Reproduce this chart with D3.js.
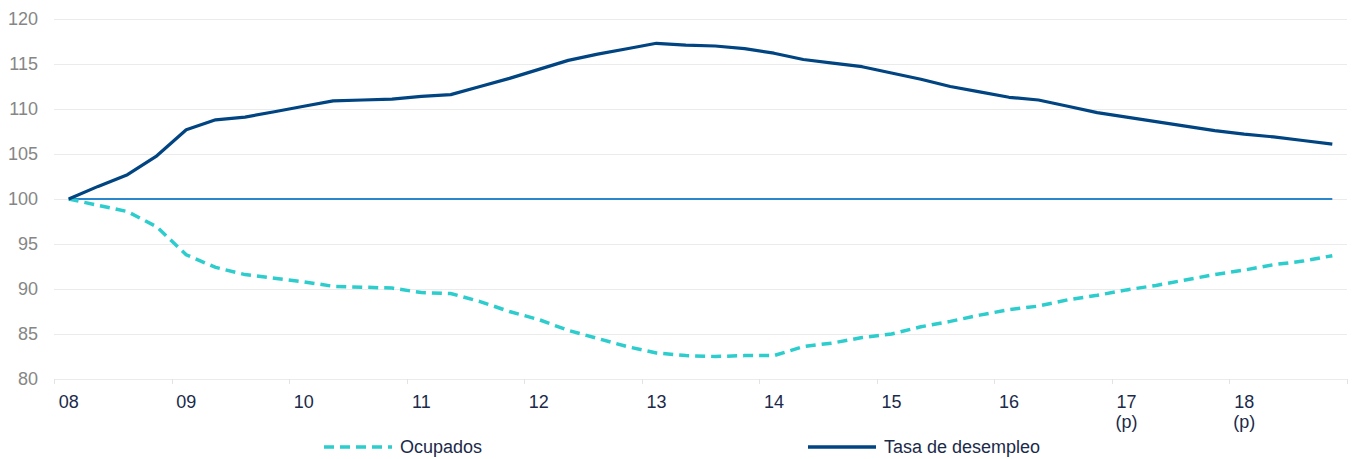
<!DOCTYPE html>
<html>
<head>
<meta charset="utf-8">
<script src="https://cdn.jsdelivr.net/npm/d3@7"></script>
<style>
  body { margin: 0; background: #fff; }
  svg text { font-family: "Liberation Sans", Arial, sans-serif; }
</style>
</head>
<body>
<svg id="chart"></svg>
<script>
const WIDTH = 1371;
const HEIGHT = 459;

// quarterly, 08Q1 .. 18Q4
const years = ["08", "09", "10", "11", "12", "13", "14", "15", "16", "17", "18"];
const projected = ["17", "18"];
const quarters = years.flatMap(y => [1, 2, 3, 4].map(q => y + "Q" + q));

const tasaDesempleo = [
  100.0, 101.4, 102.7, 104.8, 107.7, 108.8, 109.1, 109.7, 110.3, 110.9, 111.0,
  111.1, 111.4, 111.6, 112.5, 113.4, 114.4, 115.4, 116.1, 116.7, 117.3, 117.1,
  117.0, 116.7, 116.2, 115.5, 115.1, 114.7, 114.0, 113.3, 112.5, 111.9, 111.3,
  111.0, 110.3, 109.6, 109.1, 108.6, 108.1, 107.6, 107.2, 106.9, 106.5, 106.1
];
const ocupados = [
  100.0, 99.3, 98.6, 96.9, 93.8, 92.4, 91.6, 91.2, 90.8, 90.3, 90.2,
  90.1, 89.6, 89.5, 88.6, 87.5, 86.6, 85.4, 84.5, 83.6, 82.9, 82.6,
  82.5, 82.6, 82.6, 83.6, 84.0, 84.6, 85.0, 85.8, 86.4, 87.1, 87.7,
  88.1, 88.8, 89.3, 89.9, 90.4, 91.0, 91.6, 92.1, 92.7, 93.1, 93.7
];
const base = quarters.map(() => 100);
const yTicks = [80, 85, 90, 95, 100, 105, 110, 115, 120];

const margin = {left: 54, right: 24, top: 19, bottom: 80};
const FONT = 18;

function main() {
  const svg = d3.select("#chart")
    .attr("width", WIDTH)
    .attr("height", HEIGHT);

  const x = d3.scaleBand()
    .domain(quarters)
    .range([margin.left, WIDTH - margin.right]);

  const y = d3.scaleLinear()
    .domain([80, 120])
    .range([HEIGHT - margin.bottom, margin.top]);

  const cx = d => x(d) + x.bandwidth() / 2;

  // gridlines
  svg.append("g")
    .selectAll("line")
    .data(yTicks)
    .join("line")
    .attr("x1", margin.left)
    .attr("x2", WIDTH - margin.right)
    .attr("y1", d => Math.round(y(d)) + 0.5)
    .attr("y2", d => Math.round(y(d)) + 0.5)
    .attr("stroke", "#ebebeb")
    .attr("stroke-width", 1);

  // y labels
  svg.append("g")
    .selectAll("text")
    .data(yTicks)
    .join("text")
    .attr("x", 38)
    .attr("y", d => y(d))
    .attr("dy", "0.35em")
    .attr("text-anchor", "end")
    .attr("font-size", FONT)
    .attr("fill", "#868686")
    .text(d => d);

  // tick marks at year boundaries
  const bounds = years.map(yr => x(yr + "Q1")).concat([WIDTH - margin.right]);
  svg.append("g")
    .selectAll("line")
    .data(bounds)
    .join("line")
    .attr("x1", d => Math.round(d) + 0.5)
    .attr("x2", d => Math.round(d) + 0.5)
    .attr("y1", y(80))
    .attr("y2", y(80) + 5)
    .attr("stroke", "#e3e3e3");

  // x labels
  const xl = svg.append("g")
    .selectAll("text")
    .data(years)
    .join("text")
    .attr("x", d => cx(d + "Q1"))
    .attr("y", 408)
    .attr("text-anchor", "middle")
    .attr("font-size", FONT)
    .attr("fill", "#1b2a4a");
  xl.append("tspan").text(d => d);
  xl.filter(d => projected.includes(d))
    .append("tspan")
    .attr("x", d => cx(d + "Q1"))
    .attr("dy", 20)
    .text("(p)");

  const line = d3.line()
    .x((d, i) => cx(quarters[i]))
    .y(d => y(d));

  svg.append("path")
    .datum(base)
    .attr("d", line)
    .attr("fill", "none")
    .attr("stroke", "#2b87cc")
    .attr("stroke-width", 2);

  svg.append("path")
    .datum(ocupados)
    .attr("d", line)
    .attr("fill", "none")
    .attr("stroke", "#2dcccd")
    .attr("stroke-width", 3.5)
    .attr("stroke-dasharray", "10,6");

  svg.append("path")
    .datum(tasaDesempleo)
    .attr("d", line)
    .attr("fill", "none")
    .attr("stroke", "#004481")
    .attr("stroke-width", 3.2)
    .attr("stroke-linejoin", "round");

  // legend
  const legend = [
    {name: "Ocupados", color: "#2dcccd", dash: "10,6", x0: 324},
    {name: "Tasa de desempleo", color: "#004481", dash: null, x0: 808}
  ];
  const lg = svg.append("g")
    .selectAll("g")
    .data(legend)
    .join("g");
  lg.append("line")
    .attr("x1", d => d.x0)
    .attr("x2", d => d.x0 + 68)
    .attr("y1", 447)
    .attr("y2", 447)
    .attr("stroke", d => d.color)
    .attr("stroke-width", 3.5)
    .attr("stroke-dasharray", d => d.dash);
  lg.append("text")
    .attr("x", d => d.x0 + 76)
    .attr("y", 447)
    .attr("dy", "0.35em")
    .attr("font-size", FONT)
    .attr("fill", "#1b2a4a")
    .text(d => d.name);
}

main();
</script>
</body>
</html>
